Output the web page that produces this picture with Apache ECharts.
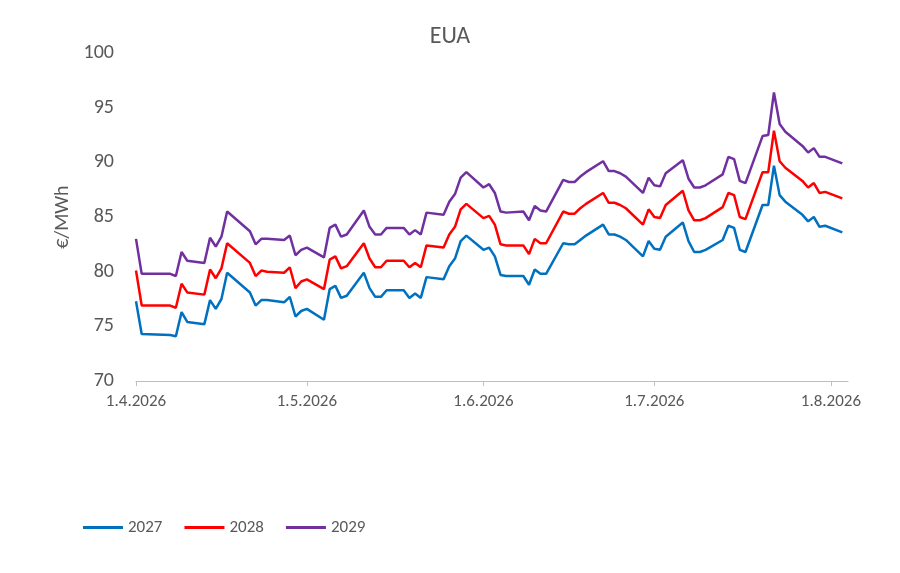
<!DOCTYPE html>
<html>
<head>
<meta charset="utf-8">
<script src="https://cdn.jsdelivr.net/npm/echarts@6/dist/echarts.min.js"></script>
<style>html,body{margin:0;background:#fff}#c{width:900px;height:573px}</style>
</head>
<body>
<div id="c"></div>
<script>
// trading days
const dates = [
  '2026-04-01','2026-04-02','2026-04-07','2026-04-08','2026-04-09','2026-04-10',
  '2026-04-13','2026-04-14','2026-04-15','2026-04-16','2026-04-17',
  '2026-04-21','2026-04-22','2026-04-23','2026-04-24',
  '2026-04-27','2026-04-28','2026-04-29','2026-04-30','2026-05-01',
  '2026-05-04','2026-05-05','2026-05-06','2026-05-07','2026-05-08',
  '2026-05-11','2026-05-12','2026-05-13','2026-05-14','2026-05-15',
  '2026-05-18','2026-05-19','2026-05-20','2026-05-21','2026-05-22',
  '2026-05-25','2026-05-26','2026-05-27','2026-05-28','2026-05-29',
  '2026-06-01','2026-06-02','2026-06-03','2026-06-04','2026-06-05',
  '2026-06-08','2026-06-09','2026-06-10','2026-06-11','2026-06-12',
  '2026-06-15','2026-06-16','2026-06-17','2026-06-18','2026-06-19',
  '2026-06-22','2026-06-23','2026-06-24','2026-06-25','2026-06-26',
  '2026-06-29','2026-06-30','2026-07-01','2026-07-02','2026-07-03',
  '2026-07-06','2026-07-07','2026-07-08','2026-07-09','2026-07-10',
  '2026-07-13','2026-07-14','2026-07-15','2026-07-16','2026-07-17',
  '2026-07-20','2026-07-21','2026-07-22','2026-07-23','2026-07-24',
  '2026-07-27','2026-07-28','2026-07-29','2026-07-30','2026-07-31',
  '2026-08-03'
];
const eua2027 = [
  77.3,74.3,74.2,74.1,76.3,75.4,
  75.2,77.4,76.6,77.5,79.9,
  78.1,76.9,77.4,77.4,
  77.2,77.7,75.9,76.4,76.6,
  75.6,78.4,78.7,77.6,77.8,
  79.9,78.5,77.7,77.7,78.3,
  78.3,77.6,78.0,77.6,79.5,
  79.3,80.5,81.2,82.8,83.3,
  82.0,82.2,81.4,79.7,79.6,
  79.6,78.8,80.2,79.8,79.8,
  82.6,82.5,82.5,82.9,83.3,
  84.3,83.4,83.4,83.2,82.9,
  81.4,82.8,82.1,82.0,83.2,
  84.5,82.8,81.8,81.8,82.0,
  82.9,84.2,84.0,82.0,81.8,
  86.1,86.1,89.7,87.0,86.4,
  85.2,84.6,85.0,84.1,84.2,
  83.6
];
const eua2028 = [
  80.1,76.9,76.9,76.7,78.9,78.1,
  77.9,80.2,79.4,80.3,82.6,
  80.8,79.6,80.1,80.0,
  79.9,80.4,78.5,79.1,79.3,
  78.4,81.1,81.4,80.3,80.5,
  82.6,81.2,80.4,80.4,81.0,
  81.0,80.4,80.8,80.4,82.4,
  82.2,83.4,84.1,85.7,86.2,
  84.9,85.1,84.3,82.5,82.4,
  82.4,81.6,83.0,82.6,82.6,
  85.5,85.3,85.3,85.8,86.2,
  87.2,86.3,86.3,86.1,85.8,
  84.3,85.7,85.0,84.9,86.1,
  87.4,85.6,84.7,84.7,84.9,
  85.9,87.2,87.0,85.0,84.8,
  89.1,89.1,92.9,90.1,89.5,
  88.3,87.7,88.1,87.2,87.3,
  86.7
];
const eua2029 = [
  83.0,79.8,79.8,79.6,81.8,81.0,
  80.8,83.1,82.3,83.2,85.5,
  83.7,82.5,83.0,83.0,
  82.9,83.3,81.5,82.0,82.2,
  81.3,84.0,84.3,83.2,83.4,
  85.6,84.1,83.4,83.4,84.0,
  84.0,83.4,83.8,83.4,85.4,
  85.2,86.4,87.1,88.6,89.1,
  87.7,88.0,87.2,85.5,85.4,
  85.5,84.7,86.0,85.6,85.5,
  88.4,88.2,88.2,88.7,89.1,
  90.1,89.2,89.2,89.0,88.7,
  87.2,88.6,87.9,87.8,89.0,
  90.2,88.5,87.7,87.7,87.9,
  88.9,90.5,90.3,88.3,88.1,
  92.4,92.5,96.4,93.5,92.8,
  91.5,90.9,91.3,90.5,90.5,
  89.9
];
const monthTicks = ['2026-04-01','2026-05-01','2026-06-01','2026-07-01','2026-08-01'];

const ts = d => new Date(d + 'T00:00:00').getTime();
const pair = vals => dates.map((d, i) => [ts(d), vals[i]]);
const font = 'Calibri, Carlito, "Liberation Sans", sans-serif';
const grey = '#595959';

const chart = echarts.init(document.getElementById('c'));
const line = (name, vals, color) => ({
  name, type: 'line', data: pair(vals), showSymbol: false, symbol: 'none',
  lineStyle: { color, width: 2.5 }, itemStyle: { color }
});

chart.setOption({
  animation: false,
  title: { text: 'EUA', left: 'center', top: 20, textStyle: { fontFamily: font, fontSize: 24, fontWeight: 'normal', color: grey } },
  grid: { left: 136, right: 52, top: 53, bottom: 192 },
  legend: {
    left: 78, top: 514, itemWidth: 40, itemHeight: 3, itemGap: 22,
    icon: 'rect',
    textStyle: { fontFamily: font, fontSize: 17, color: grey },
    data: ['2027', '2028', '2029']
  },
  xAxis: {
    // dates as timestamps on a value axis so ticks sit on month starts
    type: 'value', min: ts('2026-04-01'), max: ts('2026-08-04'),
    splitLine: { show: false },
    axisLine: { lineStyle: { color: '#bfbfbf', width: 1 } },
    axisTick: { show: true, customValues: monthTicks.map(ts), length: 5, lineStyle: { color: '#bfbfbf' } },
    axisLabel: {
      customValues: monthTicks.map(ts), margin: 12,
      fontFamily: font, fontSize: 17, color: grey,
      formatter: v => { const d = new Date(v); return d.getDate() + '.' + (d.getMonth() + 1) + '.' + d.getFullYear(); }
    }
  },
  yAxis: {
    type: 'value', min: 70, max: 100, interval: 5,
    name: '€/MWh', nameLocation: 'middle', nameGap: 62, nameRotate: 90,
    nameTextStyle: { fontFamily: font, fontSize: 20, color: grey },
    splitLine: { show: false }, axisLine: { show: false }, axisTick: { show: false },
    axisLabel: { fontFamily: font, fontSize: 20, color: grey, margin: 22 }
  },
  series: [
    line('2027', eua2027, '#0070c0'),
    line('2028', eua2028, '#ff0000'),
    line('2029', eua2029, '#7030a0')
  ]
});
</script>
</body>
</html>
